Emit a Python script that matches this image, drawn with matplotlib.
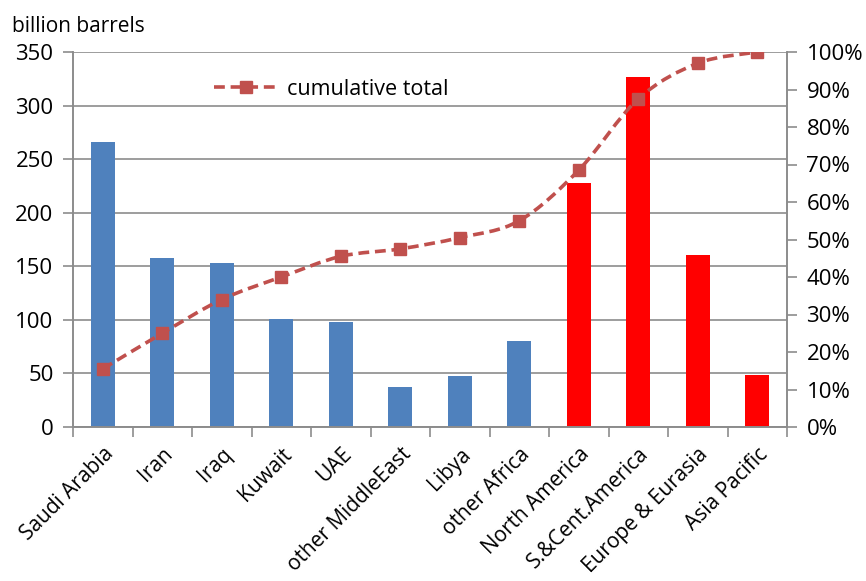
import matplotlib
matplotlib.use("Agg")
from matplotlib import pyplot as plt
from matplotlib.ticker import FuncFormatter
from matplotlib.path import Path
from matplotlib.patches import PathPatch
from matplotlib.lines import Line2D

# Data
regions = ["Saudi Arabia", "Iran", "Iraq", "Kuwait", "UAE", "other MiddleEast",
           "Libya", "other Africa", "North America", "S.&Cent.America",
           "Europe & Eurasia", "Asia Pacific"]
reserves = [266, 158, 153, 101, 98, 37, 48, 80, 228, 327, 161, 49]
bar_colors = ["#4F81BD"] * 8 + ["#FF0000"] * 4
cumulative = [15.5, 25.0, 34.0, 40.0, 45.5, 47.5, 50.5, 55.0, 68.5, 87.5, 97.0, 100.0]

plt.rcParams['font.family'] = ['Open Sans', 'DejaVu Sans']
gray = "#8C8C8C"
line_red = "#C0504D"
fs = 16

fig = plt.figure(figsize=(8.66, 5.81), dpi=100)
ax = fig.add_axes([73/866, 1 - 427/581, (787-73)/866, (427-52)/581])
ax2 = ax.twinx()

x = list(range(len(regions)))
ax.bar(x, reserves, width=0.41, color=bar_colors, zorder=2)
ax.set_xlim(-0.5, len(regions) - 0.5)
ax.set_ylim(0, 350)
ax.set_yticks(range(0, 351, 50))
ax.yaxis.grid(True, color=gray, linewidth=1.2, zorder=0)
ax.set_axisbelow(True)

# ticks between categories on the x axis
ax.set_xticks([i - 0.5 for i in range(len(regions) + 1)], minor=False)
ax.set_xticklabels([])
ax.set_xticks(x, minor=True)
ax.set_xticklabels(regions, minor=True, rotation=45, ha="right",
                   rotation_mode="anchor", fontsize=15)
ax.tick_params(axis="x", which="major", length=7, color=gray, width=1.2)
ax.tick_params(axis="x", which="minor", length=0, pad=12)
ax.tick_params(axis="y", length=7, color=gray, width=1.2, labelsize=fs, pad=7)

for s in ["top"]:
    ax.spines[s].set_visible(False)
    ax2.spines[s].set_visible(False)
for s in ["left", "bottom", "right"]:
    ax.spines[s].set_color(gray)
    ax.spines[s].set_linewidth(1.2)
    ax2.spines[s].set_color(gray)
    ax2.spines[s].set_linewidth(1.2)

# smoothed line through the points (Excel style), drawn as bezier segments
verts = [(x[0], cumulative[0])]
codes = [Path.MOVETO]
n = len(x)
for i in range(n - 1):
    p0 = (x[max(i - 1, 0)], cumulative[max(i - 1, 0)])
    p1 = (x[i], cumulative[i])
    p2 = (x[i + 1], cumulative[i + 1])
    p3 = (x[min(i + 2, n - 1)], cumulative[min(i + 2, n - 1)])
    c1 = (p1[0] + (p2[0] - p0[0]) / 6, p1[1] + (p2[1] - p0[1]) / 6)
    c2 = (p2[0] - (p3[0] - p1[0]) / 6, p2[1] - (p3[1] - p1[1]) / 6)
    verts += [c1, c2, p2]
    codes += [Path.CURVE4] * 3
dash = (0, (3, 1.6))
ax2.add_patch(PathPatch(Path(verts, codes), fill=False, edgecolor=line_red,
                        linewidth=2.6, linestyle=dash, zorder=3))
ax2.plot(x, cumulative, linestyle="none", marker="s", markersize=9,
         color=line_red, zorder=4)
ax2.set_ylim(0, 100)
ax2.set_yticks(range(0, 101, 10))
ax2.yaxis.set_major_formatter(FuncFormatter(lambda v, p: f"{int(v)}%"))
ax2.tick_params(axis="y", length=7, color=gray, width=1.2, labelsize=fs, pad=7)

handle = Line2D([], [], color=line_red, linestyle=dash, linewidth=2.6,
                marker="s", markersize=9)
ax2.legend([handle], ["cumulative total"], loc="upper left",
           bbox_to_anchor=(0.17, 0.98), frameon=False,
           fontsize=15.5, handlelength=3.0, handletextpad=0.4)

fig.text(12/866, 1 - 27/581, "billion barrels", fontsize=15, va="center")

fig.savefig("out.png", dpi=100)
